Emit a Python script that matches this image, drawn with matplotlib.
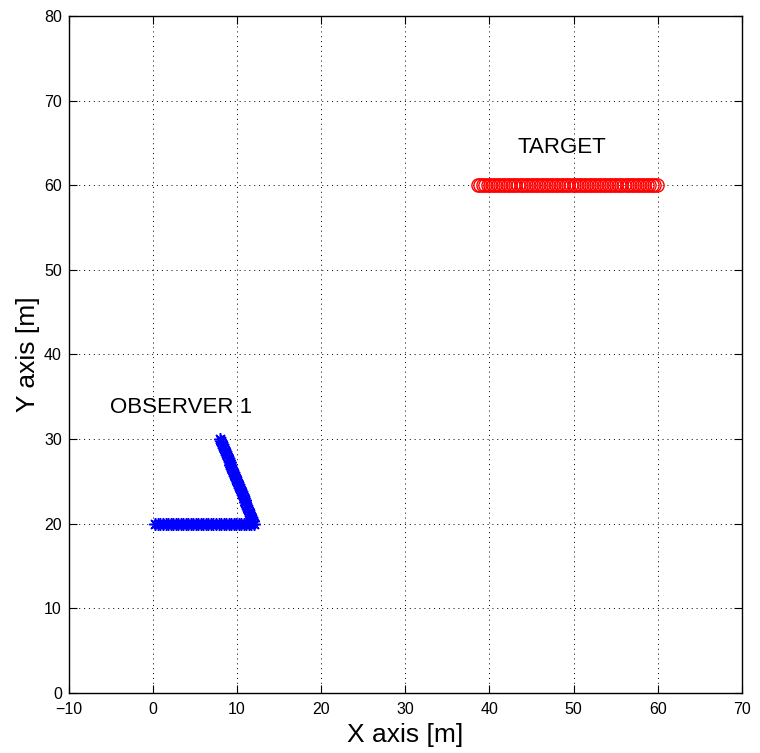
import matplotlib
matplotlib.use('Agg')
import matplotlib.pyplot as plt

plt.rcParams['font.family'] = ['Liberation Sans', 'DejaVu Sans']

# observer track: straight leg east along y=20, then turn north-west
obs_x = [0.3, 0.6, 0.9, 1.2, 1.5, 1.8, 2.1, 2.4, 2.7, 3.0,
         3.3, 3.6, 3.9, 4.2, 4.5, 4.8, 5.1, 5.4, 5.7, 6.0,
         6.3, 6.6, 6.9, 7.2, 7.5, 7.8, 8.1, 8.4, 8.7, 9.0,
         9.3, 9.6, 9.9, 10.2, 10.5, 10.8, 11.1, 11.4, 11.7, 12.0,
         11.89, 11.78, 11.67, 11.56, 11.44, 11.33, 11.22, 11.11, 11.00, 10.89,
         10.78, 10.67, 10.56, 10.44, 10.33, 10.22, 10.11, 10.00, 9.89, 9.78,
         9.67, 9.56, 9.44, 9.33, 9.22, 9.11, 9.00, 8.89, 8.78, 8.67,
         8.56, 8.44, 8.33, 8.22, 8.11, 8.00]
obs_y = [20.0] * 40 + [
         20.28, 20.56, 20.83, 21.11, 21.39, 21.67, 21.94, 22.22, 22.50, 22.78,
         23.06, 23.33, 23.61, 23.89, 24.17, 24.44, 24.72, 25.00, 25.28, 25.56,
         25.83, 26.11, 26.39, 26.67, 26.94, 27.22, 27.50, 27.78, 28.06, 28.33,
         28.61, 28.89, 29.17, 29.44, 29.72, 30.00]

# target track: moving west along y=60
tgt_x = [59.9, 59.6, 59.3, 59.0, 58.7, 58.4, 58.1, 57.8, 57.5, 57.2,
         56.9, 56.6, 56.3, 56.0, 55.7, 55.4, 55.1, 54.8, 54.5, 54.2,
         53.9, 53.6, 53.3, 53.0, 52.7, 52.4, 52.1, 51.8, 51.5, 51.2,
         50.9, 50.6, 50.3, 50.0, 49.7, 49.4, 49.1, 48.8, 48.5, 48.2,
         47.9, 47.6, 47.3, 47.0, 46.7, 46.4, 46.1, 45.8, 45.5, 45.2,
         44.9, 44.6, 44.3, 44.0, 43.7, 43.4, 43.1, 42.8, 42.5, 42.2,
         41.9, 41.6, 41.3, 41.0, 40.7, 40.4, 40.1, 39.8, 39.5, 39.2,
         38.9, 38.6]
tgt_y = [60.0] * len(tgt_x)

fig = plt.figure(figsize=(7.6, 7.53), dpi=100)
ax = fig.add_axes([0.0905, 0.0801, 0.8855, 0.8986])

ax.plot(obs_x, obs_y, linestyle='none', marker=(8, 2, 0), markersize=9,
        markeredgewidth=1.1, color='#0000ff')
ax.plot(tgt_x, tgt_y, linestyle='none', marker='o', markersize=9.5,
        markerfacecolor='none', markeredgewidth=1.0, markeredgecolor='#ff0000')

ax.text(-5.1, 33.7, 'OBSERVER 1', fontsize=16, va='center', ha='left')
ax.text(43.3, 64.5, 'TARGET', fontsize=16, va='center', ha='left')

ax.set_xlim(-10, 70)
ax.set_ylim(0, 80)
ax.set_xticks(range(-10, 71, 10))
ax.set_yticks(range(0, 81, 10))
ax.tick_params(direction='in', length=6, width=0.8, top=True, right=True,
               labelsize=11.5)
ax.tick_params(axis='x', pad=7)
ax.tick_params(axis='y', pad=5)
ax.grid(True, color='black', linestyle=(0, (1, 4)), linewidth=0.7)
for s in ax.spines.values():
    s.set_linewidth(1.0)

ax.set_xlabel('X axis [m]', fontsize=19, labelpad=4)
ax.set_ylabel('Y axis [m]', fontsize=19, labelpad=3)

fig.savefig('out.png', dpi=100)
